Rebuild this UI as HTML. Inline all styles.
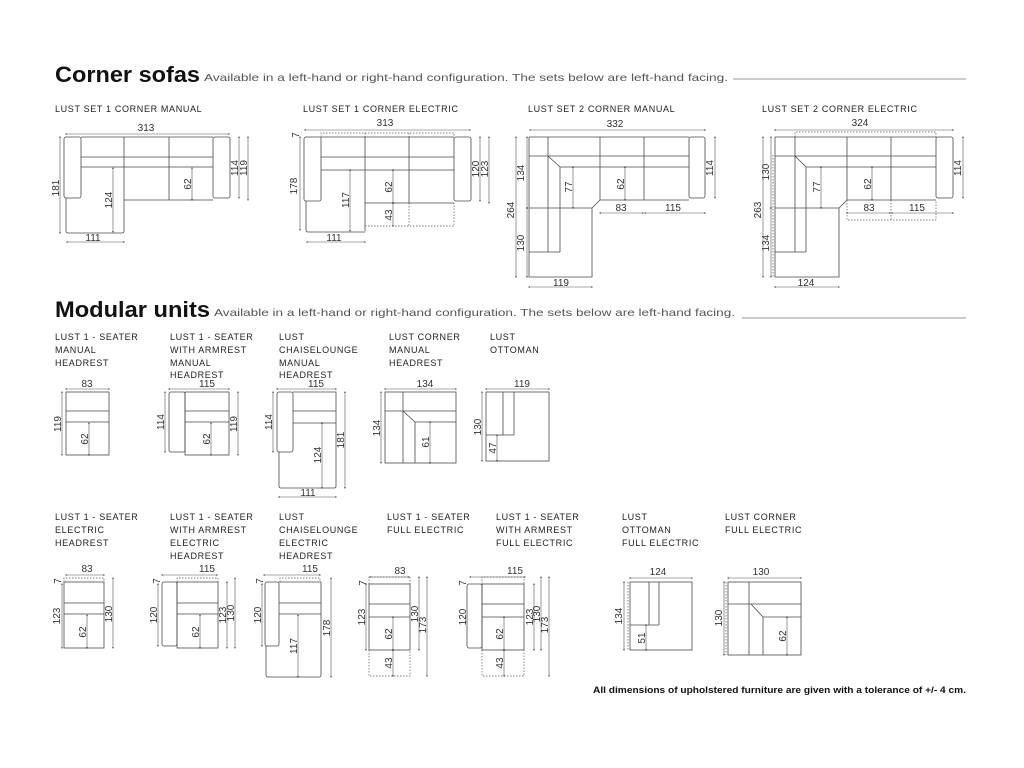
<!DOCTYPE html>
<html><head><meta charset="utf-8"><style>
html,body{margin:0;padding:0;background:#fff}
svg{display:block}
.o{stroke:#4a4a4a;stroke-width:.8;fill:none}
.d{stroke:#555;stroke-width:.6;fill:none;marker-start:url(#a);marker-end:url(#a)}
.p{stroke:#555;stroke-width:.7;fill:none;stroke-dasharray:1.5 1.5}
text{font-family:"Liberation Sans",sans-serif;fill:#333}
.t{font-size:9px;fill:#222;letter-spacing:.65px}
.n{font-size:10px;text-anchor:middle;fill:#333}
.h{font-size:22px;font-weight:bold;fill:#111}
.s{font-size:10.5px;fill:#555}
</style></head><body>
<svg width="1024" height="768" viewBox="0 0 1024 768" xmlns="http://www.w3.org/2000/svg">
<defs><marker id="a" viewBox="-3 -3 6 6" markerWidth="4" markerHeight="4" orient="auto-start-reverse" refX="0" refY="0"><path d="M3,0 L-3,-2.2 L-3,2.2z" fill="#444"/></marker></defs>

<!-- Headings -->
<text x="55" y="82" class="h" textLength="145" lengthAdjust="spacingAndGlyphs">Corner sofas</text>
<text x="204" y="81" class="s" textLength="524" lengthAdjust="spacingAndGlyphs">Available in a left-hand or right-hand configuration. The sets below are left-hand facing.</text>
<line x1="733" y1="79" x2="966" y2="79" stroke="#777" stroke-width=".7"/>
<text x="55" y="317" class="h" textLength="155" lengthAdjust="spacingAndGlyphs">Modular units</text>
<text x="214" y="316" class="s" textLength="521" lengthAdjust="spacingAndGlyphs">Available in a left-hand or right-hand configuration. The sets below are left-hand facing.</text>
<line x1="742" y1="318" x2="966" y2="318" stroke="#777" stroke-width=".7"/>

<!-- Titles row 1 -->
<text x="55" y="112" class="t">LUST SET 1 CORNER MANUAL</text>
<text x="303" y="112" class="t">LUST SET 1 CORNER ELECTRIC</text>
<text x="528" y="112" class="t">LUST SET 2 CORNER MANUAL</text>
<text x="762" y="112" class="t">LUST SET 2 CORNER ELECTRIC</text>

<!-- SET 1 MANUAL -->
<g>
<rect x="64" y="137" width="17" height="61" rx="2" class="o"/>
<rect x="213" y="137" width="17" height="61" rx="2" class="o"/>
<path class="o" d="M81,137 H213 M81,157 H213 M81,167 H213 M124,137 V200 M169,137 V200 M124,200 H213 M66,198 V231 Q66,233 68,233 H122 Q124,233 124,231 V200"/>
<line class="d" x1="66" y1="134" x2="229" y2="134"/><text x="146" y="131" class="n">313</text>
<line class="d" x1="60" y1="137" x2="60" y2="233"/><text class="n" transform="translate(59,188) rotate(-90)">181</text>
<line class="d" x1="113" y1="168" x2="113" y2="232"/><text class="n" transform="translate(112,200) rotate(-90)">124</text>
<line class="d" x1="192" y1="168" x2="192" y2="200"/><text class="n" transform="translate(191,184) rotate(-90)">62</text>
<line class="d" x1="239" y1="137" x2="239" y2="198"/><text class="n" transform="translate(238,168) rotate(-90)">114</text>
<line class="d" x1="248" y1="137" x2="248" y2="200"/><text class="n" transform="translate(247,168) rotate(-90)">119</text>
<line class="d" x1="67" y1="242" x2="124" y2="242"/><text x="93" y="241" class="n">111</text>
</g>

<!-- SET 1 ELECTRIC -->
<g>
<rect x="304" y="137" width="17" height="64" rx="2" class="o"/>
<rect x="454" y="137" width="17" height="64" rx="2" class="o"/>
<path class="o" d="M321,137 H454 M321,157 H454 M321,170 H454 M365,137 V231 M409,137 V203 M365,203 H454 M306,201 V230 Q306,232 308,232 H365"/>
<path class="p" d="M321,137 V133 H454 V137 M365,133 V137 M409,133 V137 M365,226 H454 V203 M409,203 V226"/>
<line class="d" x1="305" y1="130" x2="470" y2="130"/><text x="385" y="126" class="n">313</text>
<text class="n" transform="translate(299,135) rotate(-90)">7</text>
<line class="d" x1="300" y1="137" x2="300" y2="230"/><text class="n" transform="translate(297,186) rotate(-90)">178</text>
<line class="d" x1="350" y1="170" x2="350" y2="231"/><text class="n" transform="translate(349,200) rotate(-90)">117</text>
<line class="d" x1="393" y1="170" x2="393" y2="203"/><text class="n" transform="translate(392,187) rotate(-90)">62</text>
<line class="d" x1="393" y1="203" x2="393" y2="226"/><text class="n" transform="translate(392,215) rotate(-90)">43</text>
<line class="d" x1="480" y1="137" x2="480" y2="201"/><text class="n" transform="translate(479,169) rotate(-90)">120</text>
<line class="d" x1="489" y1="137" x2="489" y2="203"/><text class="n" transform="translate(488,169) rotate(-90)">123</text>
<line class="d" x1="307" y1="242" x2="365" y2="242"/><text x="334" y="241" class="n">111</text>
</g>

<!-- SET 2 MANUAL -->
<g>
<rect x="689" y="137" width="16" height="61" rx="2" class="o"/>
<path class="o" d="M529,137 H689 M529,156 H689 M560,167 H689 M548,137 V252 M548,156 L560,167 V252 M529,252 H560 M600,137 V200 M644,137 V200 M600,200 H689 M600,200 L592,208 H529 M592,208 V277 H529 V137"/>
<line class="d" x1="530" y1="130" x2="705" y2="130"/><text x="615" y="127" class="n">332</text>
<line class="d" x1="527" y1="137" x2="527" y2="208"/><text class="n" transform="translate(524,173) rotate(-90)">134</text>
<line class="d" x1="527" y1="208" x2="527" y2="277"/><text class="n" transform="translate(524,243) rotate(-90)">130</text>
<line class="d" x1="516" y1="137" x2="516" y2="277"/><text class="n" transform="translate(514,210) rotate(-90)">264</text>
<line class="d" x1="573" y1="167" x2="573" y2="208"/><text class="n" transform="translate(572,187) rotate(-90)">77</text>
<line class="d" x1="625" y1="167" x2="625" y2="200"/><text class="n" transform="translate(624,184) rotate(-90)">62</text>
<line class="d" x1="600" y1="213" x2="643" y2="213"/><text x="621" y="211" class="n">83</text>
<line class="d" x1="645" y1="213" x2="705" y2="213"/><text x="673" y="211" class="n">115</text>
<line class="d" x1="529" y1="287" x2="592" y2="287"/><text x="561" y="286" class="n">119</text>
<line class="d" x1="715" y1="137" x2="715" y2="198"/><text class="n" transform="translate(713,168) rotate(-90)">114</text>
</g>

<!-- SET 2 ELECTRIC -->
<g>
<rect x="936" y="137" width="17" height="61" rx="2" class="o"/>
<path class="o" d="M775,137 H936 M775,156 H936 M806,167 H936 M795,137 V252 M795,156 L806,167 V252 M775,252 H806 M847,137 V200 M891,137 V200 M847,200 H936 M847,200 L839,208 H775 M839,208 V277 H775 V137"/>
<path class="p" d="M795,137 V132 H936 V137 M773,155 V277 M847,200 V220 H936 V200 M891,200 V220"/>
<line class="d" x1="775" y1="130" x2="953" y2="130"/><text x="860" y="126" class="n">324</text>
<line class="d" x1="771" y1="137" x2="771" y2="208"/><text class="n" transform="translate(769,172) rotate(-90)">130</text>
<line class="d" x1="771" y1="208" x2="771" y2="277"/><text class="n" transform="translate(769,243) rotate(-90)">134</text>
<line class="d" x1="763" y1="137" x2="763" y2="277"/><text class="n" transform="translate(761,210) rotate(-90)">263</text>
<line class="d" x1="821" y1="167" x2="821" y2="208"/><text class="n" transform="translate(820,187) rotate(-90)">77</text>
<line class="d" x1="872" y1="167" x2="872" y2="200"/><text class="n" transform="translate(871,184) rotate(-90)">62</text>
<line class="d" x1="847" y1="213" x2="890" y2="213"/><text x="869" y="211" class="n">83</text>
<line class="d" x1="892" y1="213" x2="953" y2="213"/><text x="917" y="211" class="n">115</text>
<line class="d" x1="775" y1="287" x2="839" y2="287"/><text x="806" y="286" class="n">124</text>
<line class="d" x1="963" y1="137" x2="963" y2="198"/><text class="n" transform="translate(961,168) rotate(-90)">114</text>
</g>

<!-- Modular row 1 labels -->
<text x="55" y="340" class="t">LUST 1 - SEATER</text><text x="55" y="353" class="t">MANUAL</text><text x="55" y="366" class="t">HEADREST</text>
<text x="170" y="340" class="t">LUST 1 - SEATER</text><text x="170" y="353" class="t">WITH ARMREST</text><text x="170" y="366" class="t">MANUAL</text><text x="170" y="378" class="t">HEADREST</text>
<text x="279" y="340" class="t">LUST</text><text x="279" y="353" class="t">CHAISELOUNGE</text><text x="279" y="366" class="t">MANUAL</text><text x="279" y="378" class="t">HEADREST</text>
<text x="389" y="340" class="t">LUST CORNER</text><text x="389" y="353" class="t">MANUAL</text><text x="389" y="366" class="t">HEADREST</text>
<text x="490" y="340" class="t">LUST</text><text x="490" y="353" class="t">OTTOMAN</text>

<!-- M1 -->
<rect x="66" y="392" width="43" height="63" class="o"/>
<path class="o" d="M66,411 H109 M66,422 H109"/>
<line class="d" x1="66" y1="389" x2="109" y2="389"/><text x="87" y="387" class="n">83</text>
<line class="d" x1="62" y1="392" x2="62" y2="455"/><text class="n" transform="translate(61,424) rotate(-90)">119</text>
<line class="d" x1="89" y1="423" x2="89" y2="455"/><text class="n" transform="translate(88,439) rotate(-90)">62</text>
<!-- M2 -->
<rect x="169" y="392" width="16" height="60" rx="2" class="o"/>
<rect x="185" y="392" width="44" height="63" class="o"/>
<path class="o" d="M185,411 H229 M185,422 H229"/>
<line class="d" x1="169" y1="389" x2="229" y2="389"/><text x="207" y="387" class="n">115</text>
<line class="d" x1="165" y1="392" x2="165" y2="452"/><text class="n" transform="translate(164,422) rotate(-90)">114</text>
<line class="d" x1="238" y1="392" x2="238" y2="455"/><text class="n" transform="translate(237,424) rotate(-90)">119</text>
<line class="d" x1="211" y1="423" x2="211" y2="455"/><text class="n" transform="translate(210,439) rotate(-90)">62</text>
<!-- M3 -->
<rect x="277" y="392" width="16" height="60" rx="2" class="o"/>
<path class="o" d="M293,392 H336 V486 Q336,488 334,488 H281 Q279,488 279,486 V452 M293,411 H336 M293,423 H336"/>
<line class="d" x1="277" y1="389" x2="336" y2="389"/><text x="316" y="387" class="n">115</text>
<line class="d" x1="273" y1="392" x2="273" y2="452"/><text class="n" transform="translate(272,422) rotate(-90)">114</text>
<line class="d" x1="322" y1="423" x2="322" y2="488"/><text class="n" transform="translate(321,455) rotate(-90)">124</text>
<line class="d" x1="345" y1="392" x2="345" y2="488"/><text class="n" transform="translate(344,440) rotate(-90)">181</text>
<line class="d" x1="279" y1="497" x2="336" y2="497"/><text x="308" y="496" class="n">111</text>
<!-- M4 -->
<rect x="385" y="392" width="71" height="71" class="o"/>
<path class="o" d="M385,411 H456 M403,392 V463 M403,411 L415,422 V463 M415,422 H456"/>
<line class="d" x1="385" y1="389" x2="456" y2="389"/><text x="425" y="387" class="n">134</text>
<line class="d" x1="381" y1="392" x2="381" y2="463"/><text class="n" transform="translate(380,428) rotate(-90)">134</text>
<line class="d" x1="430" y1="422" x2="430" y2="463"/><text class="n" transform="translate(429,442) rotate(-90)">61</text>
<!-- M5 -->
<rect x="486" y="392" width="63" height="69" class="o"/>
<path class="o" d="M503,392 V435 M514,392 V435 M486,435 H514"/>
<line class="d" x1="486" y1="389" x2="549" y2="389"/><text x="522" y="387" class="n">119</text>
<line class="d" x1="482" y1="392" x2="482" y2="461"/><text class="n" transform="translate(481,427) rotate(-90)">130</text>
<line class="d" x1="497" y1="435" x2="497" y2="461"/><text class="n" transform="translate(496,448) rotate(-90)">47</text>

<!-- Row 2 labels -->
<text x="55" y="520" class="t">LUST 1 - SEATER</text><text x="55" y="533" class="t">ELECTRIC</text><text x="55" y="546" class="t">HEADREST</text>
<text x="170" y="520" class="t">LUST 1 - SEATER</text><text x="170" y="533" class="t">WITH ARMREST</text><text x="170" y="546" class="t">ELECTRIC</text><text x="170" y="559" class="t">HEADREST</text>
<text x="279" y="520" class="t">LUST</text><text x="279" y="533" class="t">CHAISELOUNGE</text><text x="279" y="546" class="t">ELECTRIC</text><text x="279" y="559" class="t">HEADREST</text>
<text x="387" y="520" class="t">LUST 1 - SEATER</text><text x="387" y="533" class="t">FULL ELECTRIC</text>
<text x="496" y="520" class="t">LUST 1 - SEATER</text><text x="496" y="533" class="t">WITH ARMREST</text><text x="496" y="546" class="t">FULL ELECTRIC</text>
<text x="622" y="520" class="t">LUST</text><text x="622" y="533" class="t">OTTOMAN</text><text x="622" y="546" class="t">FULL ELECTRIC</text>
<text x="725" y="520" class="t">LUST CORNER</text><text x="725" y="533" class="t">FULL ELECTRIC</text>

<!-- E1 -->
<rect x="64" y="582" width="40" height="66" class="o"/>
<path class="o" d="M64,603 H104 M64,614 H104"/>
<path class="p" d="M64,582 V578 H104 V582"/>
<line class="d" x1="66" y1="575" x2="104" y2="575"/><text x="87" y="572" class="n">83</text>
<text class="n" transform="translate(61,581) rotate(-90)">7</text>
<line class="d" x1="62" y1="584" x2="62" y2="648"/><text class="n" transform="translate(60,616) rotate(-90)">123</text>
<line class="d" x1="113" y1="578" x2="113" y2="648"/><text class="n" transform="translate(112,614) rotate(-90)">130</text>
<line class="d" x1="87" y1="615" x2="87" y2="648"/><text class="n" transform="translate(86,632) rotate(-90)">62</text>
<!-- E2 -->
<rect x="162" y="582" width="15" height="64" rx="2" class="o"/>
<rect x="177" y="582" width="41" height="66" class="o"/>
<path class="o" d="M177,603 H218 M177,614 H218"/>
<path class="p" d="M177,582 V578 H218 V582"/>
<line class="d" x1="162" y1="575" x2="217" y2="575"/><text x="207" y="572" class="n">115</text>
<text class="n" transform="translate(160,581) rotate(-90)">7</text>
<line class="d" x1="158" y1="584" x2="158" y2="646"/><text class="n" transform="translate(157,615) rotate(-90)">120</text>
<line class="d" x1="227" y1="582" x2="227" y2="648"/><text class="n" transform="translate(226,615) rotate(-90)">123</text>
<line class="d" x1="235" y1="578" x2="235" y2="648"/><text class="n" transform="translate(234,613) rotate(-90)">130</text>
<line class="d" x1="200" y1="615" x2="200" y2="648"/><text class="n" transform="translate(199,632) rotate(-90)">62</text>
<!-- E3 -->
<rect x="265" y="582" width="14" height="64" rx="2" class="o"/>
<path class="o" d="M279,582 H321 V675 Q321,677 319,677 H268 Q266,677 266,675 V646 M279,603 H321 M279,614 H321"/>
<path class="p" d="M280,582 V578 H320 V582"/>
<line class="d" x1="264" y1="575" x2="320" y2="575"/><text x="310" y="572" class="n">115</text>
<text class="n" transform="translate(263,581) rotate(-90)">7</text>
<line class="d" x1="262" y1="584" x2="262" y2="646"/><text class="n" transform="translate(261,615) rotate(-90)">120</text>
<line class="d" x1="298" y1="615" x2="298" y2="677"/><text class="n" transform="translate(297,646) rotate(-90)">117</text>
<line class="d" x1="331" y1="578" x2="331" y2="677"/><text class="n" transform="translate(330,628) rotate(-90)">178</text>
<!-- E4 -->
<rect x="369" y="584" width="41" height="66" class="o"/>
<path class="o" d="M369,604 H410 M369,617 H410"/>
<path class="p" d="M369,584 V577 H410 V584 M369,650 V676 H410 V650"/>
<line class="d" x1="370" y1="577" x2="409" y2="577"/><text x="400" y="574" class="n">83</text>
<text class="n" transform="translate(366,583) rotate(-90)">7</text>
<line class="d" x1="366" y1="584" x2="366" y2="650"/><text class="n" transform="translate(365,617) rotate(-90)">123</text>
<line class="d" x1="393" y1="617" x2="393" y2="650"/><text class="n" transform="translate(392,634) rotate(-90)">62</text>
<line class="d" x1="393" y1="650" x2="393" y2="676"/><text class="n" transform="translate(392,663) rotate(-90)">43</text>
<line class="d" x1="419" y1="577" x2="419" y2="650"/><text class="n" transform="translate(418,614) rotate(-90)">130</text>
<line class="d" x1="427" y1="577" x2="427" y2="676"/><text class="n" transform="translate(426,625) rotate(-90)">173</text>
<!-- E5 -->
<rect x="467" y="584" width="15" height="64" rx="2" class="o"/>
<rect x="482" y="584" width="42" height="66" class="o"/>
<path class="o" d="M482,604 H524 M482,617 H524"/>
<path class="p" d="M482,584 V577 H524 V584 M482,650 V676 H524 V650"/>
<line class="d" x1="470" y1="577" x2="525" y2="577"/><text x="515" y="574" class="n">115</text>
<text class="n" transform="translate(466,583) rotate(-90)">7</text>
<text class="n" transform="translate(466,617) rotate(-90)">120</text>
<line class="d" x1="504" y1="617" x2="504" y2="650"/><text class="n" transform="translate(503,634) rotate(-90)">62</text>
<line class="d" x1="504" y1="650" x2="504" y2="676"/><text class="n" transform="translate(503,663) rotate(-90)">43</text>
<line class="d" x1="534" y1="584" x2="534" y2="650"/><text class="n" transform="translate(533,617) rotate(-90)">123</text>
<line class="d" x1="541" y1="577" x2="541" y2="650"/><text class="n" transform="translate(540,614) rotate(-90)">130</text>
<line class="d" x1="549" y1="577" x2="549" y2="676"/><text class="n" transform="translate(548,625) rotate(-90)">173</text>
<!-- E6 ottoman -->
<rect x="630" y="582" width="62" height="68" class="o"/>
<path class="o" d="M649,582 V625 M659,582 V625 M630,625 H659"/>
<path class="p" d="M628,582 V650"/>
<line class="d" x1="630" y1="578" x2="692" y2="578"/><text x="658" y="575" class="n">124</text>
<line class="d" x1="624" y1="582" x2="624" y2="650"/><text class="n" transform="translate(622,616) rotate(-90)">134</text>
<line class="d" x1="646" y1="625" x2="646" y2="650"/><text class="n" transform="translate(645,638) rotate(-90)">51</text>
<!-- E7 corner -->
<rect x="728" y="582" width="73" height="73" class="o"/>
<path class="o" d="M728,604 H801 M749,582 V655 M751,604 L763,617 V655 M763,617 H801"/>
<path class="p" d="M726,582 V655"/>
<line class="d" x1="728" y1="578" x2="801" y2="578"/><text x="761" y="575" class="n">130</text>
<line class="d" x1="724" y1="582" x2="724" y2="655"/><text class="n" transform="translate(722,618) rotate(-90)">130</text>
<line class="d" x1="787" y1="617" x2="787" y2="655"/><text class="n" transform="translate(786,636) rotate(-90)">62</text>

<text x="593" y="693" textLength="373" lengthAdjust="spacingAndGlyphs" style="font-size:9px;font-weight:bold;fill:#111">All dimensions of upholstered furniture are given with a tolerance of +/- 4 cm.</text>
</svg>
</body></html>
